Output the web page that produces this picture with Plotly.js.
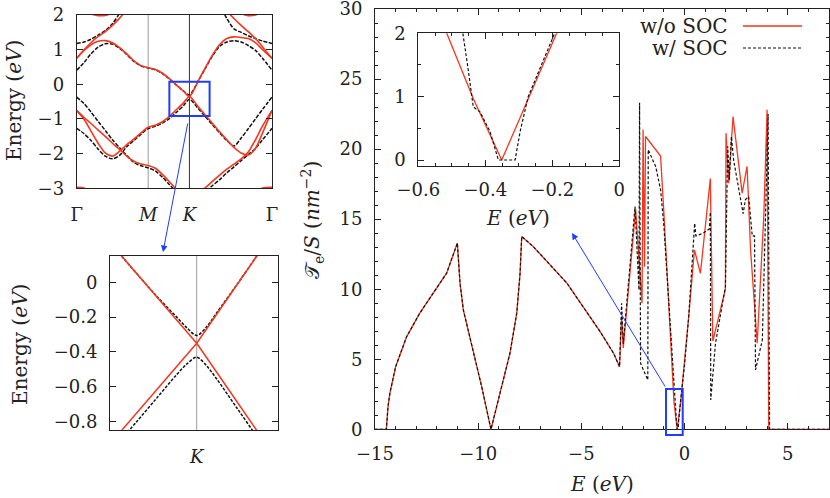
<!DOCTYPE html>
<html><head><meta charset="utf-8">
<script src="https://cdn.plot.ly/plotly-3.0.1.min.js"></script>
<style>html,body{margin:0;padding:0;background:#fff}#c{width:830px;height:498px}</style>
</head><body><div id="c"></div>
<script>
// ---------- main panel: T_e/S vs E ----------
const eRed = [-15,-14.45,-14.37,-14.28,-14.0,-13.47,-12.83,-12.18,-11.53,-11.01,-10.95,-10.88,-10.72,-10.24,-9.83,-9.38,-8.94,-8.46,-8.13,-7.97,-7.89,-7.33,-5.7,-4.09,-3.44,-3.15,-3.05,-2.97,-2.37,-2.06,-2.01,-1.94,-1.89,-1.16,-1.0,-0.8,-0.65,-0.515,-0.436,-0.351,-0.187,0.0,0.2,0.48,0.77,1.25,1.37,1.98,2.01,2.14,2.35,2.79,3.03,3.2,3.52,3.84,4.0,4.08,7];
const tRed = [0,0,1.6,2.57,4.47,6.6,8.29,9.71,11.14,13.29,11.6,10.43,8.52,5.66,3.04,0,2.57,5.43,8.29,11.14,13.76,13.04,10.43,6.97,5.43,4.47,8.05,5.8,15.7,9.0,21.4,11.6,20.9,19.5,15.4,10.0,5.6,2.0,0.97,0,2.0,4.8,8.0,12.8,11.14,17.9,6.3,10.0,21.14,17.57,22.33,16.86,18.76,12.8,6.14,15.2,22.8,0,0];
const eSoc = [-15,-14.45,-14.37,-14.28,-14.0,-13.47,-12.83,-12.18,-11.53,-11.01,-10.95,-10.88,-10.72,-10.24,-9.83,-9.38,-8.94,-8.46,-8.13,-7.97,-7.89,-7.33,-5.7,-4.09,-3.44,-3.15,-3.05,-2.97,-2.4,-2.21,-2.18,-2.13,-1.78,-1.76,-1.4,-1.16,-1.0,-0.8,-0.65,-0.52,-0.467,-0.45,-0.436,-0.416,-0.386,-0.361,-0.311,-0.296,-0.272,-0.193,0.0,0.2,0.49,0.55,0.9,1.2,1.25,1.27,1.5,1.98,2.09,2.17,2.27,2.38,2.84,2.95,3.11,3.28,3.39,3.44,3.77,4.05,4.12,7];
const tSoc = [0,0,1.6,2.57,4.47,6.6,8.29,9.71,11.14,13.29,11.6,10.43,8.52,5.66,3.04,0,2.57,5.43,8.29,11.14,13.76,13.04,10.43,6.97,5.43,4.47,9.0,6.1,15.9,9.95,23.3,4.71,3.52,19.95,18.76,17.1,14.5,9.8,6.0,2.9,2.0,1.39,0.84,0.76,0.45,0,0,0.45,1.0,2.0,4.6,8.0,14.7,13.8,14.0,14.3,15.5,2.1,6.14,10.19,20.2,17.8,20.9,19.2,15.4,16.4,16.6,13.8,13.8,4.24,6.38,22.5,0,0];

// ---------- top-left panel: bands along Gamma-M-K-Gamma ----------
const kPath = [0,0.1,0.2,0.3,0.4,0.5,0.6,0.7,0.8,0.9,1.0,1.1,1.2,1.3,1.4,1.5,1.577,1.7,1.8,1.9,2.0,2.1,2.2,2.3,2.4,2.5,2.6,2.732];
const kTickVals = [0,1,1.577,2.732];
const kTickText = ['Γ','<i>M</i>','<i>K</i>','Γ'];
const n = null;
const red1 = [0.75,0.97,1.14,1.24,1.26,1.2,1.06,0.88,0.68,0.54,0.48,0.43,0.32,0.16,-0.03,-0.21,-0.35,0.1,0.48,0.85,1.15,1.32,1.37,1.35,1.32,1.2,1.0,0.75];
const red2 = [0.75,0.99,1.2,1.38,1.52,1.7,1.91,2.15,2.4,n,n,n,n,n,n,n,n,n,n,n,2.4,2.12,1.9,1.7,1.52,1.32,1.08,0.75];
const red3 = [-0.76,-1.0,-1.35,-1.7,-1.98,-2.07,-1.93,-1.74,-1.58,-1.4,-1.24,-1.18,-1.08,-0.92,-0.72,-0.52,-0.35,-0.65,-0.89,-1.13,-1.37,-1.6,-1.82,-1.98,-2.04,-1.85,-1.4,-0.75];
const red4 = [-0.75,-0.95,-1.13,-1.32,-1.5,-1.7,-1.88,-2.07,-2.22,-2.3,-2.34,-2.42,-2.6,-2.82,-3.05,-3.3,-3.5,-3.15,-2.98,-2.8,-2.62,-2.45,-2.3,-2.15,-1.95,-1.6,-1.2,-0.75];
const redTop = [2.2,2.1,2.03,1.98,1.99,2.06,2.2,n,n,n,n,n,n,n,n,n,n,n,n,n,n,n,2.2,2.05,1.98,2.0,2.1,2.25];
const redBot = [-2.97,-2.99,-3.1,n,n,n,n,n,n,n,n,n,n,n,n,n,n,n,n,n,n,n,n,n,n,-3.1,-2.99,-2.97];
const soc1 = [0.41,0.62,0.88,1.07,1.17,1.16,1.04,0.86,0.66,0.53,0.47,0.42,0.31,0.15,-0.03,-0.2,-0.31,0.1,0.46,0.82,1.1,1.22,1.26,1.22,1.12,0.98,0.75,0.41];
const soc2 = [1.18,1.22,1.3,1.42,1.55,1.75,2.05,2.4,n,n,n,n,n,n,n,n,n,n,n,n,2.3,1.9,1.6,1.5,1.4,1.32,1.25,1.18];
const soc3 = [-1.27,-1.42,-1.62,-1.87,-2.07,-2.15,-2.05,-1.8,-1.62,-1.44,-1.28,-1.21,-1.12,-0.98,-0.8,-0.6,-0.43,-0.7,-0.93,-1.17,-1.4,-1.62,-1.78,-1.55,-1.28,-1.0,-0.72,-0.37];
const soc4 = [-0.37,-0.55,-0.8,-1.07,-1.33,-1.6,-1.83,-2.05,-2.25,-2.35,-2.41,-2.5,-2.68,-2.9,-3.12,-3.35,-3.5,-3.3,-3.1,-2.92,-2.75,-2.55,-2.38,-2.2,-2.03,-1.85,-1.6,-1.27];

// ---------- bottom-left panel: zoom around K ----------
const qK = [-0.9,-0.6,-0.4,-0.2,-0.1,0,0.1,0.2,0.4,0.6,0.9];
const kRedA = [0.25,0.05,-0.083,-0.217,-0.283,-0.35,-0.433,-0.517,-0.683,-0.85,-1.1];
const kRedB = [-0.95,-0.75,-0.617,-0.483,-0.417,-0.35,-0.267,-0.183,-0.017,0.15,0.4];
const kSocUp = [0.25,0.05,-0.08,-0.2,-0.26,-0.305,-0.255,-0.175,-0.015,0.15,0.4];
const kSocDn = [-1.0,-0.8,-0.665,-0.53,-0.47,-0.43,-0.48,-0.555,-0.72,-0.885,-1.14];

// ---------- styling / layout ----------
const W = 830, H = 498;
const FONT = 'DejaVu Serif';
const RED = '#f6361e', BLK = '#111111', BLUE = '#1f3cff';
const px = v => v / W, py = v => 1 - v / H;
const TF = {family: FONT, size: 20, color: '#222'};

function axis(o) {
  return Object.assign({
    showline: true, mirror: 'allticks', linecolor: '#222', linewidth: 1,
    ticks: 'inside', tickcolor: '#222', ticklen: 6, tickwidth: 1,
    showgrid: false, zeroline: false, fixedrange: true, ticklabeloverflow: 'allow',
    tickfont: {family: FONT, size: 18, color: '#222'}, ticklabelstandoff: 8
  }, o);
}

const traces = [];
traces.push({x: eRed, y: tRed, xaxis: 'x', yaxis: 'y', mode: 'lines', line: {color: RED, width: 1.3}, hoverinfo: 'skip'});
traces.push({x: eSoc, y: tSoc, xaxis: 'x', yaxis: 'y', mode: 'lines', line: {color: BLK, width: 1.2, dash: '3px,2px'}, hoverinfo: 'skip'});
traces.push({x: eRed, y: tRed, xaxis: 'x2', yaxis: 'y2', mode: 'lines', line: {color: RED, width: 1.3}, hoverinfo: 'skip'});
traces.push({x: eSoc, y: tSoc, xaxis: 'x2', yaxis: 'y2', mode: 'lines', line: {color: BLK, width: 1.2, dash: '3px,2px'}, hoverinfo: 'skip'});
[soc1, soc2, soc3, soc4].forEach(b => traces.push({x: kPath, y: b, xaxis: 'x3', yaxis: 'y3', mode: 'lines', line: {color: BLK, width: 1.5, dash: '4px,1.5px', shape: 'spline', smoothing: 0.8}, hoverinfo: 'skip'}));
[red1, red2, red3, red4, redTop, redBot].forEach(b => traces.push({x: kPath, y: b, xaxis: 'x3', yaxis: 'y3', mode: 'lines', line: {color: RED, width: 1.6, shape: 'spline', smoothing: 0.8}, hoverinfo: 'skip'}));
[kSocUp, kSocDn].forEach(b => traces.push({x: qK, y: b, xaxis: 'x4', yaxis: 'y4', mode: 'lines', line: {color: BLK, width: 1.5, dash: '3px,1.5px', shape: 'spline', smoothing: 0.9}, hoverinfo: 'skip'}));
[kRedA, kRedB].forEach(b => traces.push({x: qK, y: b, xaxis: 'x4', yaxis: 'y4', mode: 'lines', line: {color: RED, width: 1.5}, hoverinfo: 'skip'}));

const dMainX = [px(375), px(829)], dMainY = [py(429.3), py(9)];
const dInX = [px(418.3), px(619.3)], dInY = [py(165.7), py(33.3)];
const dTLX = [px(76.7), px(272)], dTLY = [py(188.3), py(15)];
const dBLX = [px(110), px(277.7)], dBLY = [py(430), py(256)];
const minorT = d => ({dtick: d, ticklen: 3, ticks: 'inside', tickcolor: '#222'});

const layout = {
  width: W, height: H, margin: {l: 0, r: 0, t: 0, b: 0}, autosize: false,
  paper_bgcolor: '#fff', plot_bgcolor: '#fff', showlegend: false,
  font: {family: FONT, size: 18, color: '#222'},
  xaxis: axis({domain: dMainX, range: [-15, 7], anchor: 'y', tick0: 0, dtick: 5, minor: minorT(1)}),
  yaxis: axis({domain: dMainY, range: [0, 30], anchor: 'x', tick0: 0, dtick: 5, minor: minorT(1)}),
  xaxis2: axis({domain: dInX, range: [-0.6, 0], anchor: 'y2', tick0: 0, dtick: 0.2, minor: minorT(0.05)}),
  yaxis2: axis({domain: dInY, range: [-0.09, 2], anchor: 'x2', tick0: 0, dtick: 1, minor: minorT(0.5)}),
  xaxis3: axis({domain: dTLX, range: [0, 2.732], anchor: 'y3', tickvals: kTickVals, ticktext: kTickText, ticks: '', ticklabelstandoff: 10}),
  yaxis3: axis({domain: dTLY, range: [-3, 2], anchor: 'x3', tick0: 0, dtick: 1}),
  xaxis4: axis({domain: dBLX, range: [-0.867, 0.81], anchor: 'y4', tickvals: [0], ticktext: ['<i>K</i>'], ticks: '', ticklabelstandoff: 10}),
  yaxis4: axis({domain: dBLY, range: [-0.848, 0.151], anchor: 'x4', tick0: 0, dtick: 0.2}),
  shapes: [
    {type: 'line', layer: 'below', xref: 'x3', yref: 'paper', x0: kTickVals[1], x1: kTickVals[1], y0: dTLY[0], y1: dTLY[1], line: {color: '#9a9a9a', width: 1}},
    {type: 'line', layer: 'below', xref: 'x3', yref: 'paper', x0: kTickVals[2], x1: kTickVals[2], y0: dTLY[0], y1: dTLY[1], line: {color: '#333', width: 1}},
    {type: 'line', layer: 'below', xref: 'x4', yref: 'paper', x0: 0, x1: 0, y0: dBLY[0], y1: dBLY[1], line: {color: '#9a9a9a', width: 1}},
    {type: 'rect', xref: 'x3', yref: 'y3', x0: 1.296, x1: 1.859, y0: -0.914, y1: 0.076, line: {color: BLUE, width: 2}},
    {type: 'rect', xref: 'paper', yref: 'paper', x0: px(666), x1: px(682.7), y0: py(435), y1: py(389), line: {color: BLUE, width: 2}},
    {type: 'line', xref: 'paper', yref: 'paper', x0: px(743), x1: px(802), y0: py(26), y1: py(26), line: {color: RED, width: 1.3}},
    {type: 'line', xref: 'paper', yref: 'paper', x0: px(743), x1: px(802), y0: py(48), y1: py(48), line: {color: BLK, width: 1.2, dash: '3px,2px'}}
  ],
  annotations: [
    {xref: 'paper', yref: 'paper', x: px(730), y: py(26), xanchor: 'right', yanchor: 'middle', showarrow: false, text: 'w/o SOC', font: TF},
    {xref: 'paper', yref: 'paper', x: px(730), y: py(48), xanchor: 'right', yanchor: 'middle', showarrow: false, text: 'w/ SOC', font: TF},
    {xref: 'paper', yref: 'paper', x: px(602), y: py(484), xanchor: 'center', yanchor: 'middle', showarrow: false, text: '<i>E</i> (<i>eV</i>)', font: TF},
    {xref: 'paper', yref: 'paper', x: px(518), y: py(218), xanchor: 'center', yanchor: 'middle', showarrow: false, text: '<i>E</i> (<i>eV</i>)', font: TF},
    {xref: 'paper', yref: 'paper', x: px(313), y: py(220), xanchor: 'center', yanchor: 'middle', textangle: -90, showarrow: false, text: '𝒯<sub>e</sub>/<i>S</i> (<i>nm</i><sup>−2</sup>)', font: TF},
    {xref: 'paper', yref: 'paper', x: px(14), y: py(101), xanchor: 'center', yanchor: 'middle', textangle: -90, showarrow: false, text: 'Energy (<i>eV</i>)', font: TF},
    {xref: 'paper', yref: 'paper', x: px(20), y: py(345), xanchor: 'center', yanchor: 'middle', textangle: -90, showarrow: false, text: 'Energy (<i>eV</i>)', font: TF},
    {xref: 'paper', yref: 'paper', x: px(572), y: py(233), ax: 94, ay: 155, text: '', showarrow: true, arrowhead: 2, arrowsize: 1.3, arrowwidth: 1, arrowcolor: BLUE},
    {xref: 'paper', yref: 'paper', x: px(163), y: py(252), ax: 25, ay: -130, text: '', showarrow: true, arrowhead: 2, arrowsize: 1.3, arrowwidth: 1, arrowcolor: BLUE}
  ]
};
Plotly.newPlot('c', traces, layout, {staticPlot: true, displayModeBar: false});
</script></body></html>
